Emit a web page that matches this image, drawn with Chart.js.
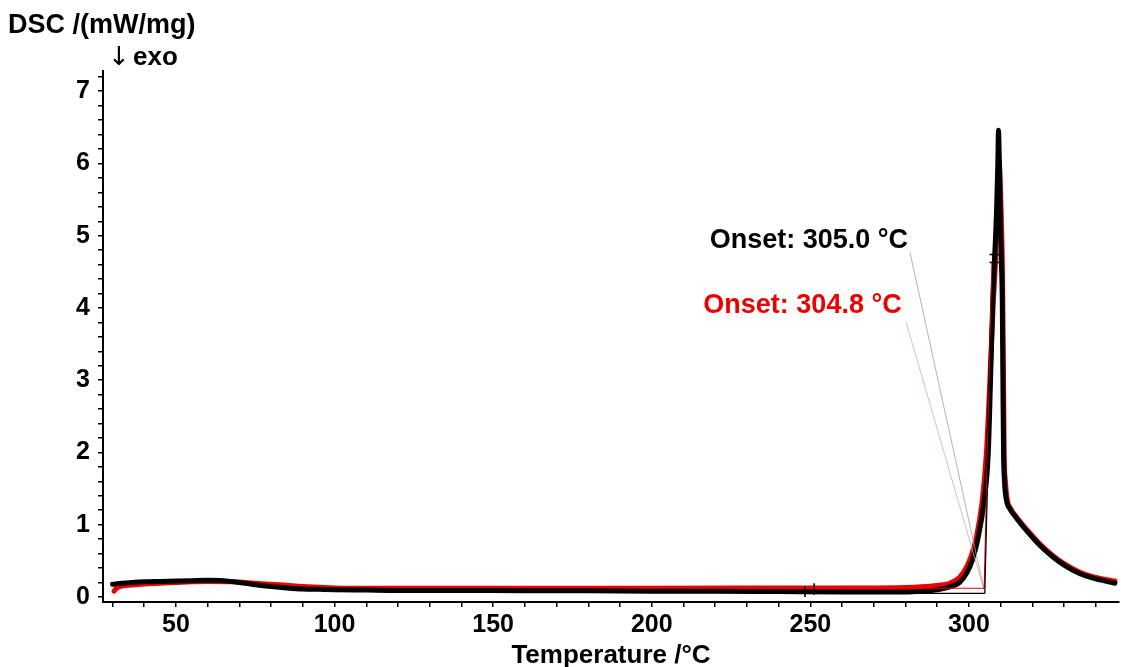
<!DOCTYPE html>
<html>
<head>
<meta charset="utf-8">
<script src="https://cdn.jsdelivr.net/npm/chart.js@4.4.0/dist/chart.umd.min.js"></script>
<style>
  body { margin: 0; background: #fff; }
  canvas { display: block; }
</style>
</head>
<body>
<canvas id="dsc-chart" width="1121" height="667"></canvas>
<script>
// DSC curves
const blackTemp = [30, 33, 36, 40, 45, 50, 55, 60, 65, 70, 75, 80, 85, 90, 95, 100, 110, 120, 140, 160, 180, 200, 220, 240, 260, 270, 280, 285, 290, 294, 297, 299.3, 301, 302.8, 304.7, 306.1, 306.8, 307.5, 308.05, 308.7, 309.1, 309.3, 309.6, 309.85, 310.2, 310.5, 310.7, 310.9, 311.2, 311.8, 312.9, 314.8, 318.7, 322, 326, 330, 335, 340, 346];
const blackDsc = [0.175, 0.19, 0.2, 0.21, 0.215, 0.22, 0.225, 0.23, 0.225, 0.2, 0.17, 0.145, 0.125, 0.11, 0.105, 0.1, 0.095, 0.09, 0.09, 0.085, 0.085, 0.08, 0.08, 0.075, 0.07, 0.07, 0.07, 0.08, 0.1, 0.14, 0.2, 0.33, 0.5, 0.8, 1.3, 2.0, 3.0, 4.1, 4.66, 5.35, 6.0, 6.46, 6.0, 5.35, 4.66, 4.1, 3.0, 2.0, 1.6, 1.34, 1.22, 1.1, 0.89, 0.73, 0.57, 0.44, 0.32, 0.25, 0.19];

const redTemp = [30.5, 31, 32, 35, 40, 45, 50, 55, 60, 68, 75, 84, 90, 100, 110, 130, 150, 200, 250, 270, 280, 285, 290, 294, 297, 299.3, 300.8, 302.2, 304.1, 305.5, 306.6, 307.7, 308.4, 309.0, 309.45, 310.1, 310.6, 310.9, 311.1, 311.5, 312.1, 313.2, 315.1, 318.7, 322, 326, 330, 335, 340, 346];
const redDsc = [0.08, 0.11, 0.14, 0.16, 0.18, 0.19, 0.2, 0.21, 0.215, 0.21, 0.19, 0.165, 0.145, 0.125, 0.12, 0.12, 0.12, 0.12, 0.125, 0.125, 0.13, 0.14, 0.16, 0.19, 0.27, 0.42, 0.58, 0.8, 1.3, 2.0, 3.0, 4.1, 4.66, 5.35, 6.05, 5.4, 4.4, 3.0, 2.0, 1.6, 1.34, 1.22, 1.1, 0.91, 0.75, 0.59, 0.46, 0.34, 0.27, 0.22];

// onset construction lines (temperature, dsc)
const blackBaseline = [[248.3, 0.05], [305.0, 0.05]];
const blackTangent = [[305.0, 0.05], [307.6, 4.74]];
const redBaseline = [[251.2, 0.12], [304.8, 0.12]];
const redTangent = [[304.8, 0.12], [307.3, 4.63]];
const blackLimitMarks = [[[248.3, 0.0], [248.3, 0.15]], [[306.5, 4.74], [310.6, 4.74]]];
const redLimitMarks = [[[251.2, 0.03], [251.2, 0.19]], [[306.5, 4.63], [310.6, 4.63]]];
const blackPointer = [[281.4, 4.77], [305.0, 0.05]];
const redPointer = [[280.2, 3.8], [304.6, 0.12]];

// labels
const onsetLabels = [
  { text: 'Onset: 305.0 °C', x: 280.8, y: 4.83, color: '#000000' },
  { text: 'Onset: 304.8 °C', x: 278.8, y: 3.93, color: '#ee0000' }
];
const xTickLabels = [50, 100, 150, 200, 250, 300];
const yTickLabels = [0, 1, 2, 3, 4, 5, 6, 7];

const FONT = '"Liberation Sans", Arial, sans-serif';

function toPoints(xs, ys) {
  return xs.map((t, i) => ({ x: t, y: ys[i] }));
}
function pairPoints(pairs) {
  return pairs.map(p => ({ x: p[0], y: p[1] }));
}
function thinLine(pairs, color, width) {
  return {
    data: pairPoints(pairs),
    borderColor: color,
    borderWidth: width,
    pointRadius: 0,
    tension: 0,
    fill: false,
    order: 0
  };
}
function curve(xs, ys, color, order) {
  return {
    data: toPoints(xs, ys),
    borderColor: color,
    borderWidth: 5,
    pointRadius: 0,
    cubicInterpolationMode: 'monotone',
    borderJoinStyle: 'round',
    borderCapStyle: 'round',
    fill: false,
    order: order
  };
}

const datasets = [
  curve(blackTemp, blackDsc, '#000000', 1),
  curve(redTemp, redDsc, '#ee0000', 2),
  thinLine(blackBaseline, '#000000', 1.2),
  thinLine(blackTangent, '#000000', 1.2),
  thinLine(redBaseline, '#ee0000', 1.2),
  thinLine(redTangent, '#ee0000', 1.2),
  thinLine(blackPointer, '#a0a0a0', 0.8),
  thinLine(redPointer, '#dba8a8', 0.8)
];
blackLimitMarks.forEach(m => datasets.push(thinLine(m, '#000000', 1.6)));
redLimitMarks.forEach(m => datasets.push(thinLine(m, '#000000', 1.6)));

const textPlugin = {
  id: 'dscText',
  beforeDraw(chart) {
    const ctx = chart.ctx;
    ctx.save();
    ctx.fillStyle = '#ffffff';
    ctx.fillRect(0, 0, chart.width, chart.height);
    ctx.restore();
  },
  afterDraw(chart) {
    const { ctx, chartArea, scales } = chart;
    ctx.save();
    ctx.textBaseline = 'alphabetic';
    ctx.fillStyle = '#000000';
    ctx.font = 'bold 27px ' + FONT;
    ctx.textAlign = 'left';
    ctx.fillText('DSC /(mW/mg)', 8, 33);
    ctx.font = '26px "DejaVu Sans", sans-serif';
    ctx.fillText('↓', 108, 65);
    ctx.font = 'bold 26px ' + FONT;
    ctx.fillText('exo', 133, 65);

    ctx.textAlign = 'center';
    ctx.fillText('Temperature /°C', (chartArea.left + chartArea.right) / 2, 663);

    ctx.font = 'bold 27px ' + FONT;
    ctx.textAlign = 'right';
    onsetLabels.forEach(l => {
      ctx.fillStyle = l.color;
      ctx.fillText(l.text, scales.x.getPixelForValue(l.x), scales.y.getPixelForValue(l.y));
    });
    ctx.restore();
  }
};

new Chart(document.getElementById('dsc-chart').getContext('2d'), {
  type: 'line',
  data: { datasets: datasets },
  options: {
    responsive: false,
    animation: false,
    layout: { padding: { left: 0, top: 71, right: 2, bottom: 0 } },
    plugins: {
      legend: { display: false },
      tooltip: { enabled: false }
    },
    scales: {
      x: {
        type: 'linear',
        min: 27,
        max: 347.3,
        afterFit: s => { s.height = 65; },
        border: { display: true, color: '#000000', width: 2 },
        grid: { drawOnChartArea: false, drawTicks: true, tickLength: 5, color: '#000000', lineWidth: 1.5 },
        ticks: {
          stepSize: 10,
          includeBounds: false,
          autoSkip: false,
          maxRotation: 0,
          padding: 3,
          color: '#000000',
          font: { family: FONT, size: 25, weight: 'bold' },
          callback: v => xTickLabels.includes(Math.round(v)) && Math.abs(v - Math.round(v)) < 1e-6 ? String(Math.round(v)) : ''
        }
      },
      y: {
        type: 'linear',
        min: -0.07,
        max: 7.28,
        afterFit: s => { s.width = 103; },
        border: { display: true, color: '#000000', width: 2 },
        grid: { drawOnChartArea: false, drawTicks: true, tickLength: 5, color: '#000000', lineWidth: 1.5 },
        ticks: {
          stepSize: 0.2,
          includeBounds: false,
          autoSkip: false,
          padding: 8,
          color: '#000000',
          font: { family: FONT, size: 25, weight: 'bold' },
          callback: v => {
            const r = Math.round(v);
            return Math.abs(v - r) < 1e-6 && yTickLabels.includes(r) ? String(r) : '';
          }
        }
      }
    }
  },
  plugins: [textPlugin]
});
</script>
</body>
</html>
